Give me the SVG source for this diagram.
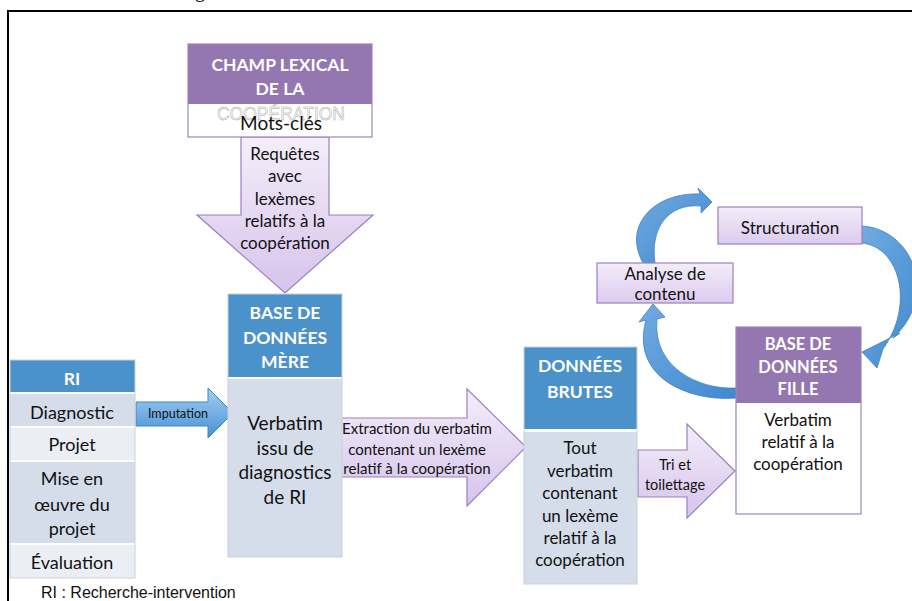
<svg xmlns="http://www.w3.org/2000/svg" width="912" height="601" viewBox="0 0 912 601">
  <defs>
    <linearGradient id="lav" x1="0" y1="0" x2="0" y2="1">
      <stop offset="0" stop-color="#F4EEFA"/>
      <stop offset="1" stop-color="#D6C3EB"/>
    </linearGradient>
    <linearGradient id="lavBox" x1="0" y1="0" x2="0" y2="1">
      <stop offset="0" stop-color="#F3EDF9"/>
      <stop offset="1" stop-color="#DCCBEE"/>
    </linearGradient>
    <linearGradient id="blueArrow" x1="0" y1="0" x2="0" y2="1">
      <stop offset="0" stop-color="#A3CFF2"/>
      <stop offset="1" stop-color="#4690D3"/>
    </linearGradient>
    <linearGradient id="blueBand" x1="0" y1="0" x2="1" y2="1">
      <stop offset="0" stop-color="#72ABE0"/>
      <stop offset="1" stop-color="#3F89CF"/>
    </linearGradient>
    <style>
      .frame { stroke: #000; stroke-width: 2; fill: none; }
      .hdrBlue { fill: #4B91CA; }
      .hdrPurple { fill: #9477B1; }
      .bodyBlue { fill: #D5DDEA; }
      .rowLight { fill: #EBEFF5; }
      .boxEdge { fill: none; stroke: #C9D0DB; stroke-width: 1; }
      .purpleEdge { fill: none; stroke: #9A84BA; stroke-width: 1.2; }
      .lavArrow { fill: url(#lav); stroke: #9B7FBE; stroke-width: 1.2; }
      .lavBox { fill: url(#lavBox); stroke: #9B7FBE; stroke-width: 1.2; }
      .blueArrow { fill: url(#blueArrow); stroke: #3F85C7; stroke-width: 1; }
      .band { fill: url(#blueBand); stroke: #3F80C2; stroke-width: 0.8; }
      text { font-family: Lato, "Noto Sans", sans-serif; fill: #111; text-anchor: middle; }
      .hdr { font-weight: bold; fill: #fff; font-size: 17.5px; }
      .body { font-size: 18px; }
      .b17 { font-size: 17px; }
      .b19 { font-size: 19px; }
      .small { font-size: 15px; }
      .note { font-family: "Liberation Sans", Arial, sans-serif; font-size: 16px; text-anchor: start; }
    </style>
  </defs>

  <rect width="912" height="601" fill="#fff"/>

  <!-- clipped caption descender above the frame -->
  <text x="200" y="-3" style="font-family:'Liberation Serif',serif;font-size:20px;fill:#000">g</text>

  <!-- outer frame -->
  <path class="frame" d="M8,601 V11 H912"/>

  <g id="connectors">
    <!-- lexical field down arrow -->
    <polygon class="lavArrow" points="241,137 329,137 329,215 373,215 285,293 197,215 241,215"/>
    <text class="b17" x="285" y="160">Requêtes</text>
    <text class="b17" x="285" y="182">avec</text>
    <text class="b17" x="285" y="205">lexèmes</text>
    <text class="b17" x="285" y="227">relatifs à la</text>
    <text class="b17" x="285" y="249">coopération</text>

    <!-- imputation -->
    <polygon class="blueArrow" points="136,402 208,402 208,388 233,413 208,438 208,426 136,426"/>
    <text x="178" y="418" style="font-size:12.5px">Imputation</text>

    <!-- extraction -->
    <polygon class="lavArrow" points="337,418 467,418 467,389 526,447 467,506 467,477 337,477"/>
    <text class="small" x="417" y="434">Extraction du verbatim</text>
    <text class="small" x="417" y="455">contenant un lexème</text>
    <text class="small" x="417" y="474">relatif à la coopération</text>

    <!-- sorting and cleaning -->
    <polygon class="lavArrow" points="638,450 687,450 687,424 735,471 687,518 687,497 638,497"/>
    <text x="675" y="470" style="font-size:14.5px">Tri et</text>
    <text x="675" y="490" style="font-size:14.5px">toilettage</text>

    <!-- cycle: Structuration to daughter database -->
    <path class="band" d="M861,226 C912,228 940,295 893,338 L900,333 L862,352 L877,368 L883,349 C915,305 900,246 861,243 Z"/>
    <!-- cycle: daughter database to content analysis -->
    <path class="band" d="M736,398 C690,402 630,378 646,320 L639,322 L653,304 L665,317 L657,319 C652,368 700,390 736,388 Z"/>
    <!-- cycle: content analysis to Structuration -->
    <path class="band" d="M643,263 C622,225 655,192 700,194 L698,188 L712,202 L701,213 L701,206 C668,203 650,228 655,263 Z"/>
  </g>

  <g id="champ-lexical">
    <rect x="188" y="44" width="184" height="60" class="hdrPurple"/>
    <rect x="188" y="104" width="184" height="33" fill="#fff"/>
    <rect x="188" y="44" width="184" height="93" class="purpleEdge"/>
    <text class="hdr" x="280" y="71">CHAMP LEXICAL</text>
    <text class="hdr" x="280" y="95">DE LA</text>
    <text x="281" y="120" style="font-family:'Liberation Sans',sans-serif;font-size:17.5px;fill:#fff;stroke:#A8A8A8;stroke-width:0.5">COOPÉRATION</text>
    <text x="281" y="130" style="font-size:19px">Mots-clés</text>
  </g>

  <g id="ri">
    <rect x="10" y="360" width="125" height="32" class="hdrBlue"/>
    <rect x="10" y="394" width="125" height="32" class="bodyBlue"/>
    <rect x="10" y="428" width="125" height="32" class="rowLight"/>
    <rect x="10" y="462" width="125" height="81" class="bodyBlue"/>
    <rect x="10" y="545" width="125" height="33" class="rowLight"/>
    <rect x="10" y="360" width="125" height="218" class="boxEdge"/>
    <text class="hdr" x="72" y="385">RI</text>
    <text class="body" x="72" y="419">Diagnostic</text>
    <text class="body" x="72" y="451">Projet</text>
    <text class="body" x="72" y="485">Mise en</text>
    <text class="body" x="72" y="511">œuvre du</text>
    <text class="body" x="72" y="535">projet</text>
    <text class="body" x="72" y="569">Évaluation</text>
  </g>

  <g id="base-mere">
    <rect x="228" y="294" width="114" height="83" class="hdrBlue"/>
    <rect x="228" y="379" width="114" height="178" class="bodyBlue"/>
    <rect x="228" y="294" width="114" height="263" class="boxEdge"/>
    <text class="hdr" x="285" y="319">BASE DE</text>
    <text class="hdr" x="285" y="344">DONNÉES</text>
    <text class="hdr" x="285" y="368">MÈRE</text>
    <text class="b19" x="285" y="430">Verbatim</text>
    <text class="b19" x="285" y="455">issu de</text>
    <text class="b19" x="285" y="479">diagnostics</text>
    <text class="b19" x="285" y="504">de RI</text>
  </g>

  <g id="donnees-brutes">
    <rect x="524" y="347" width="113" height="82" class="hdrBlue"/>
    <rect x="524" y="432" width="113" height="152" class="bodyBlue"/>
    <rect x="524" y="347" width="113" height="237" class="boxEdge"/>
    <text class="hdr" x="580" y="372">DONNÉES</text>
    <text class="hdr" x="580" y="398">BRUTES</text>
    <text class="b17" x="580" y="454">Tout</text>
    <text class="b17" x="580" y="477">verbatim</text>
    <text class="b17" x="580" y="499">contenant</text>
    <text class="b17" x="580" y="522">un lexème</text>
    <text class="b17" x="580" y="544">relatif à la</text>
    <text class="b17" x="580" y="566">coopération</text>
  </g>

  <g id="base-fille">
    <rect x="736" y="327" width="125" height="76" class="hdrPurple"/>
    <rect x="736" y="404" width="125" height="110" fill="#fff"/>
    <rect x="736" y="327" width="125" height="187" class="purpleEdge"/>
    <text class="hdr" x="798" y="350" style="font-size:16.5px">BASE DE</text>
    <text class="hdr" x="798" y="373" style="font-size:16.5px">DONNÉES</text>
    <text class="hdr" x="798" y="395" style="font-size:16.5px">FILLE</text>
    <text class="b17" x="798" y="426">Verbatim</text>
    <text class="b17" x="798" y="448">relatif à la</text>
    <text class="b17" x="798" y="470">coopération</text>
  </g>

  <g id="structuration">
    <rect x="718" y="207" width="144" height="37" class="lavBox"/>
    <text x="790" y="234" style="font-size:17px">Structuration</text>
  </g>

  <g id="analyse-contenu">
    <rect x="597" y="263" width="136" height="40" class="lavBox"/>
    <text x="665" y="280" style="font-size:17px">Analyse de</text>
    <text x="665" y="300" style="font-size:17px">contenu</text>
  </g>

  <text class="note" x="41" y="598">RI : Recherche-intervention</text>
</svg>
